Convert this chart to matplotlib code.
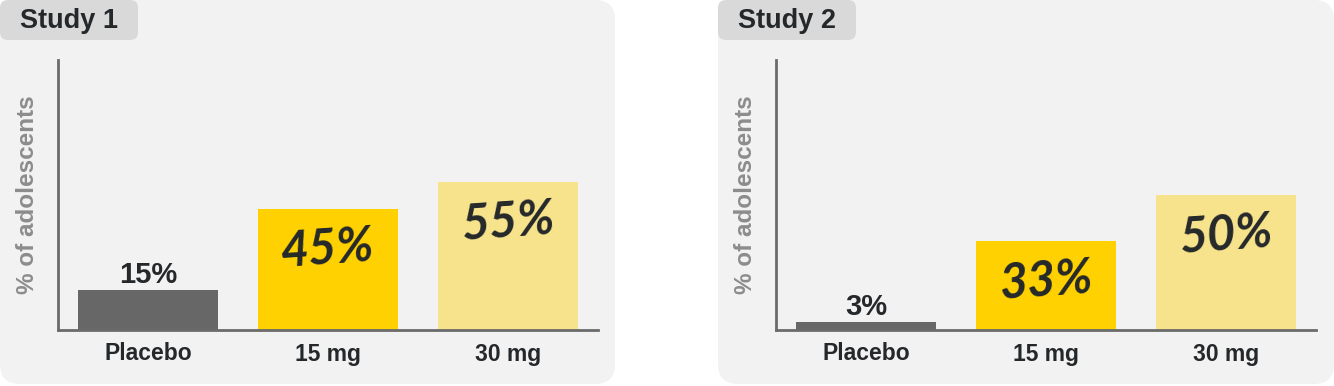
"""
Adolescent response rates, two studies side by side.
"""

import matplotlib.pyplot as plt
from matplotlib.patches import FancyBboxPatch

categories = ["Placebo", "15 mg", "30 mg"]
study_names = ["Study 1", "Study 2"]
study1 = [15, 45, 55]
study2 = [3, 33, 50]
bar_colors = ["#676767", "#ffd100", "#f7e38b"]

W, H = 1334, 386
TEXT = "#25282a"
AXIS = "#6b6b6b"

plt.rcParams["font.family"] = ["Liberation Sans", "DejaVu Sans"]

fig = plt.figure(figsize=(W / 100, H / 100), dpi=100)

# background layer in pixel coordinates
bg = fig.add_axes([0, 0, 1, 1])
bg.set_xlim(0, W)
bg.set_ylim(H, 0)
bg.axis("off")


def px_axes(left, top, right, bottom):
    return fig.add_axes([left / W, 1 - bottom / H, (right - left) / W, (bottom - top) / H])


# (panel left, panel right, axes left, axes right)
layout = [(0, 615, 58, 598), (718, 1334, 776, 1316)]

for name, values, (p0, p1, a0, a1) in zip(study_names, [study1, study2], layout):
    bg.add_patch(FancyBboxPatch((p0, 0), p1 - p0, 384,
                                boxstyle="round,pad=0,rounding_size=20",
                                fc="#f2f2f2", ec="none"))
    bg.add_patch(FancyBboxPatch((p0, 0), 138, 40,
                                boxstyle="round,pad=0,rounding_size=8",
                                fc="#d9d9d9", ec="none"))
    bg.text(p0 + 69, 21, name, ha="center", va="center",
            fontsize=19.5, fontweight="bold", color=TEXT)

    ax = px_axes(a0, 60, a1, 330)
    ax.set_facecolor("none")
    x = range(len(categories))
    ax.bar(x, values, width=0.78, color=bar_colors)
    ax.set_xlim(-0.5, 2.5)
    ax.set_ylim(0, 100)
    for side in ["top", "right"]:
        ax.spines[side].set_visible(False)
    for side in ["left", "bottom"]:
        ax.spines[side].set_color(AXIS)
        ax.spines[side].set_linewidth(2)
    ax.set_yticks([])
    ax.set_xticks(list(x))
    ax.set_xticklabels(categories, fontsize=16.5, fontweight="bold", color=TEXT)
    ax.tick_params(axis="x", length=0, pad=9)

    ax.text(-0.057, 0.5, "% of adolescents", transform=ax.transAxes,
            rotation=90, ha="center", va="center",
            fontsize=17.5, fontweight="bold", color="#8c8c8c")

    # placebo value above its bar
    ax.annotate(f"{values[0]}%", (0, values[0]), xytext=(0, 5),
                textcoords="offset points", ha="center", va="baseline",
                fontsize=21, fontweight="bold", color=TEXT)
    # active doses written inside the bars
    for i in (1, 2):
        ax.annotate(f"{values[i]}%", (i, values[i]), xytext=(0, -29),
                    textcoords="offset points", ha="center", va="center",
                    fontsize=35, fontstyle="italic", fontweight="bold",
                    family=["Lato", "DejaVu Sans"],
                    rotation=4, color=TEXT)

plt.savefig("out.png", dpi=100)
